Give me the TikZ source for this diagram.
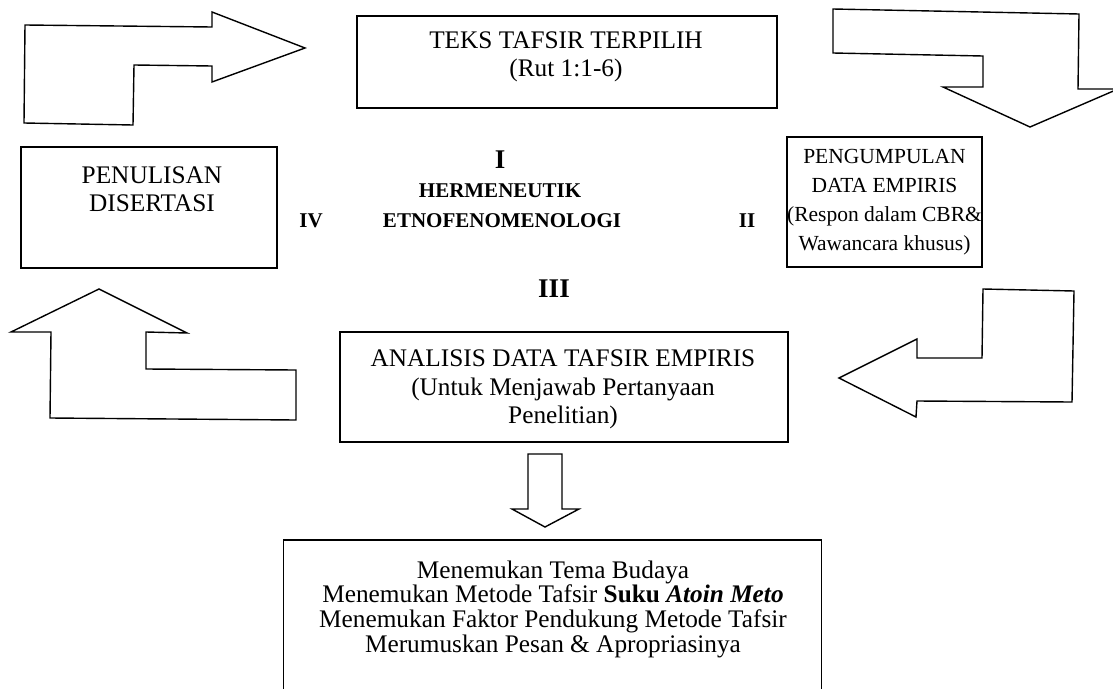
\documentclass[tikz,border=0pt]{standalone}
\usepackage{fontspec}
\setmainfont{Liberation Serif}
\begin{document}
\begin{tikzpicture}[x=1pt,y=-1pt,
  box/.style={draw, line width=1.4pt, inner sep=0pt},
  txt/.style={align=center, inner sep=0pt, anchor=north, font=\fontsize{25.3}{28.5}\selectfont},
  txtr/.style={align=center, inner sep=0pt, anchor=north, font=\fontsize{21.5}{29}\selectfont},
  txtb/.style={align=center, inner sep=0pt, anchor=north, font=\fontsize{25.3}{24.6}\selectfont},
  numeral/.style={font=\fontsize{21}{24}\selectfont\bfseries, anchor=base, inner sep=0pt},
  bignumeral/.style={font=\fontsize{27}{32}\selectfont\bfseries, anchor=base, inner sep=0pt},
  blockarrow/.style={draw, line width=1.4pt, line join=miter, fill=white}]
\useasboundingbox (0,0) rectangle (1113,688);
\clip (0,0) rectangle (1113,688);
\fill[white] (0,0) rectangle (1113,688);

% block arrows
\draw[blockarrow] (25,25) -- (212,27) -- (212,12) -- (305,48) -- (212,82) -- (212,66) -- (134,65) -- (133,125) -- (24,123) -- cycle;
\draw[blockarrow] (833,9) -- (1079,14) -- (1078,89) -- (1118,89) -- (1030,127) -- (943,87) -- (983,87) -- (983,56) -- (833,53) -- cycle;
\draw[blockarrow] (99,289) -- (187,333) -- (146,332) -- (146,369) -- (296,370) -- (296,420) -- (50,418) -- (51,332) -- (11,332) -- cycle;
\draw[blockarrow] (983,289) -- (1074,291) -- (1072,402) -- (917,401) -- (916,417) -- (839,378) -- (917,339) -- (917,358) -- (982,358) -- cycle;
\draw[blockarrow] (528,454) -- (562,454) -- (562,509) -- (579,509) -- (545,527) -- (512,509) -- (528,509) -- cycle;

% boxes
\node[box, minimum width=420pt, minimum height=92pt] (topbox) at (567,62) {};
\node[box, minimum width=256pt, minimum height=121pt] (leftbox) at (149,207.5) {};
\node[box, minimum width=195pt, minimum height=130pt] (rightbox) at (884.5,202) {};
\node[box, minimum width=448pt, minimum height=110pt] (midbox) at (564,387) {};
\node[box, minimum width=538pt, minimum height=160pt] (botbox) at (552.5,620) {};

% box texts
\node[txt] (toptext) at (566,31.5) {TEKS TAFSIR TERPILIH\\(Rut 1:1-6)};
\node[txt] (lefttext) at (152,166.5) {PENULISAN\\DISERTASI};
\node[txtr] (righttext) at (884.5,149) {PENGUMPULAN\\DATA EMPIRIS\\(Respon dalam CBR\&\\Wawancara khusus)};
\node[txt] (midtext) at (563,350) {ANALISIS DATA TAFSIR EMPIRIS\\(Untuk Menjawab Pertanyaan\\Penelitian)};
\node[txtb] (bottext) at (553,560.5) {Menemukan Tema Budaya\\Menemukan Metode Tafsir \textbf{Suku \textit{Atoin Meto}}\\Menemukan Faktor Pendukung Metode Tafsir\\Merumuskan Pesan \& Apropriasinya};

% centre labels
\node[bignumeral] (n1) at (500,168.5) {I};
\node[numeral] (herm) at (500,197) {HERMENEUTIK};
\node[numeral] (etno) at (502,227) {ETNOFENOMENOLOGI};
\node[numeral] (n4) at (311,227) {IV};
\node[numeral] (n2) at (747,227) {II};
\node[bignumeral] (n3) at (554,297) {III};
\end{tikzpicture}
\end{document}
